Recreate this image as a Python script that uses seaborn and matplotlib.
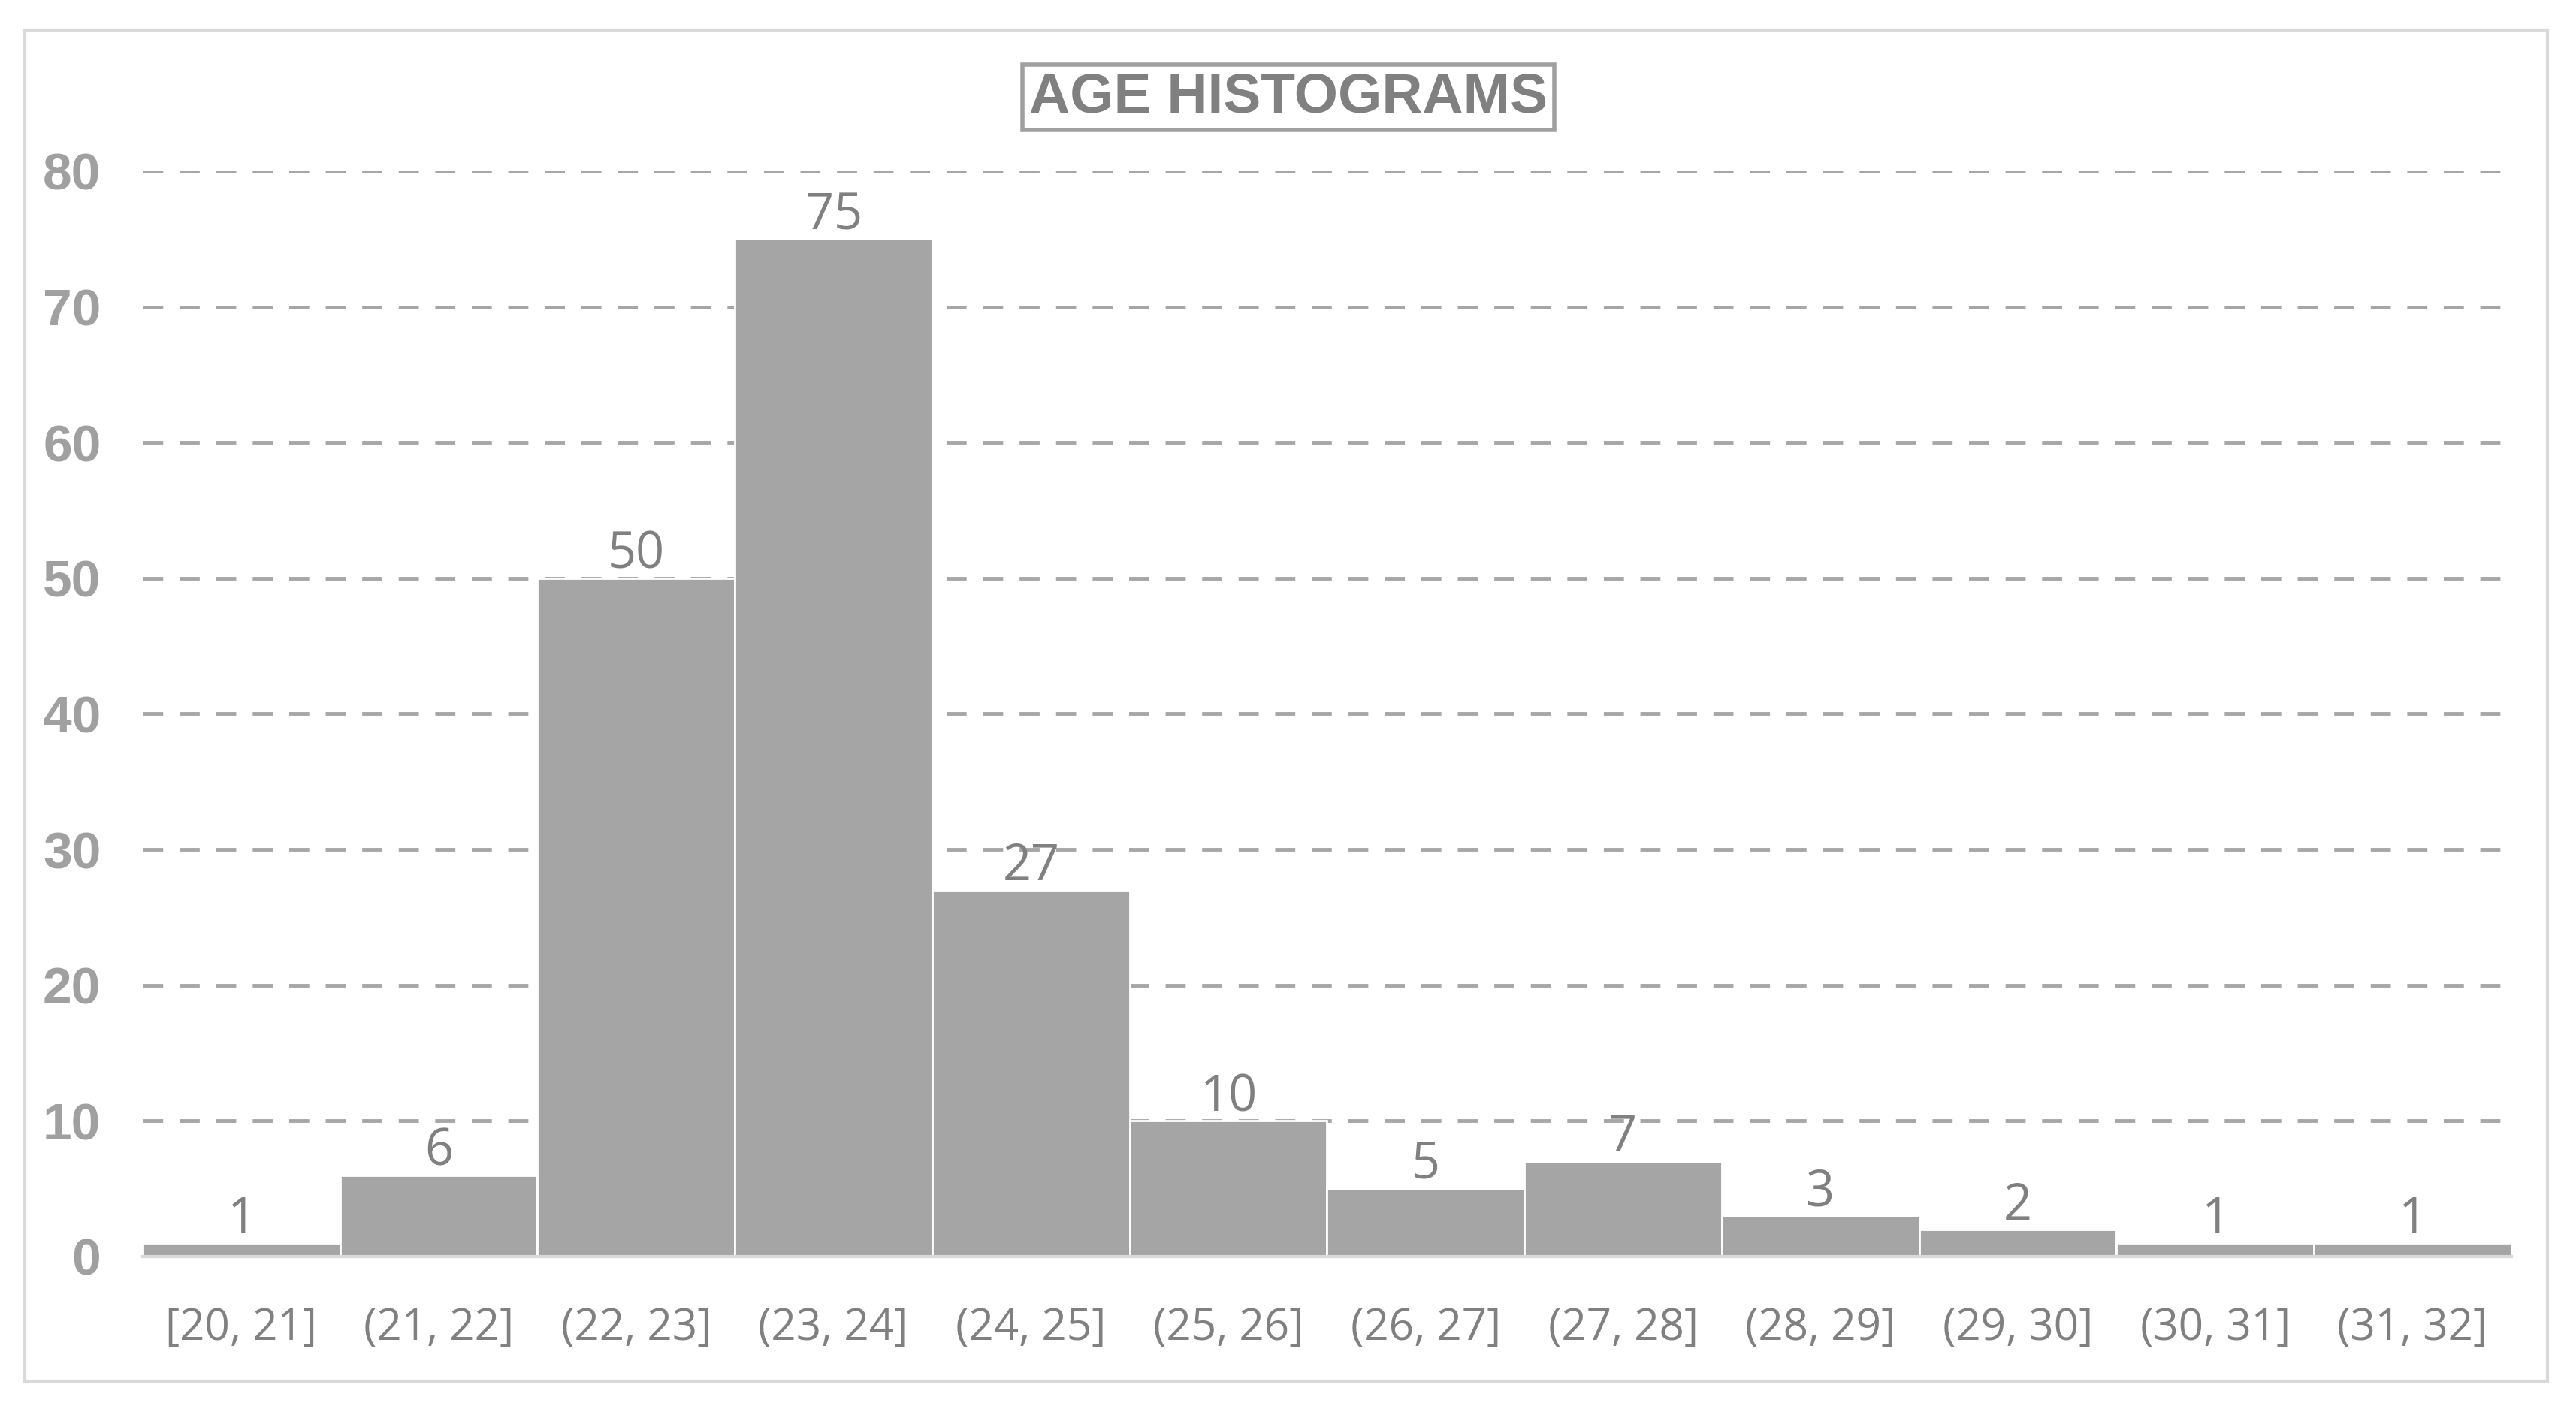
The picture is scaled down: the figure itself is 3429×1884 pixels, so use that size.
import matplotlib
matplotlib.use("Agg")
import matplotlib.pyplot as plt
import seaborn as sns
import pandas as pd
from matplotlib.patches import Rectangle

# --------- dados
age_bins = ['[20, 21]', '(21, 22]', '(22, 23]', '(23, 24]', '(24, 25]', '(25, 26]',
            '(26, 27]', '(27, 28]', '(28, 29]', '(29, 30]', '(30, 31]', '(31, 32]']
counts = [1, 6, 50, 75, 27, 10, 5, 7, 3, 2, 1, 1]
y_ticks = [0, 10, 20, 30, 40, 50, 60, 70, 80]

df = pd.DataFrame({'faixa': age_bins, 'qtd': counts})

sns.set_style('white')
plt.rcParams['font.family'] = ['Open Sans', 'DejaVu Sans']

fig = plt.figure(figsize=(34.3, 18.84), dpi=100)
ax = fig.add_axes([0.0554, 0.112, 0.9192, 0.767])

sns.barplot(data=df, x='faixa', y='qtd', color='#a5a5a5', saturation=1,
            width=1.0, edgecolor='white', linewidth=2, ax=ax, zorder=2)

# grade tracejada
ax.set_ylim(0, 80)
ax.set_yticks(y_ticks)
ax.yaxis.grid(True, linestyle=(0, (5.5, 4.5)), color='#a6a6a6', linewidth=3.5, zorder=1)
ax.set_axisbelow(True)
ax.set_xlim(-0.5, len(age_bins) - 0.5)

for s in ['top', 'right', 'left']:
    ax.spines[s].set_visible(False)
ax.spines['bottom'].set_color('#d9d9d9')
ax.spines['bottom'].set_linewidth(3)
ax.spines['bottom'].set_zorder(3)

ax.tick_params(axis='both', length=0)
ax.tick_params(axis='x', pad=48, labelsize=42, labelcolor='#808080')
ax.tick_params(axis='y', pad=40, labelsize=50, labelcolor='#a0a0a0')
for lab in ax.get_yticklabels():
    lab.set_family('Liberation Sans')
    lab.set_fontweight('bold')
ax.set_xlabel('')
ax.set_ylabel('')

ax.bar_label(ax.containers[0], labels=[str(c) for c in counts], padding=-2,
             fontsize=48, color='#808080')

# titulo com moldura
fig.text(0.5, 0.931, 'AGE HISTOGRAMS', ha='center', va='center', fontsize=54,
         fontweight='bold', color='#808080', family='Liberation Sans',
         bbox=dict(boxstyle='square,pad=0.12', facecolor='white', edgecolor='#a0a0a0', linewidth=4))

# moldura externa do grafico
fig.patches.append(Rectangle((0.0096, 0.024), 0.979, 0.955, transform=fig.transFigure,
                             fill=False, edgecolor='#d9d9d9', linewidth=3))

fig.savefig('out.png', dpi=100)
